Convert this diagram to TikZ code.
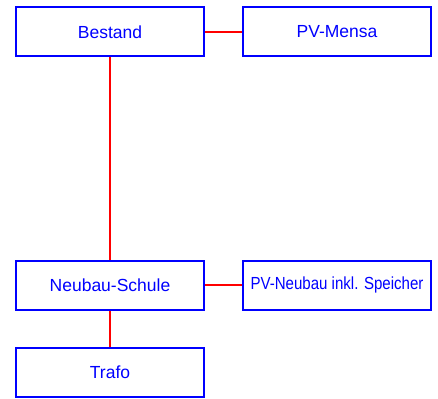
\documentclass[tikz,border=0pt]{standalone}
\usepackage{fontspec}
\setmainfont{Liberation Sans}
\definecolor{linkred}{RGB}{255,0,0}
\definecolor{boxblue}{RGB}{0,0,255}
\begin{document}
\begin{tikzpicture}[x=1pt,y=1pt,
  box/.style={draw=boxblue, line width=2pt, minimum width=188pt, minimum height=49pt, inner sep=0pt, text=boxblue, font=\fontsize{17.5}{20}\selectfont},
  link/.style={draw=linkred, line width=2pt}]
\fill[white] (0,0) rectangle (438,-398);
\useasboundingbox (0,0) rectangle (438,-398);
\node[box] (bestand) at (110,-32) {Bestand};
\node[box] (pvmensa) at (337,-32) {PV-Mensa};
\node[box] (neubau) at (110,-285) {Neubau-Schule};
\node[box] (pvneubau) at (337,-285) {\scalebox{0.86}[1]{PV-Neubau inkl. Speicher}};
\node[box] (trafo) at (110,-372) {Trafo};
\draw[link] (bestand.east) -- (pvmensa.west);
\draw[link] (bestand.south) -- (neubau.north);
\draw[link] (neubau.east) -- (pvneubau.west);
\draw[link] (neubau.south) -- (trafo.north);
\end{tikzpicture}
\end{document}
